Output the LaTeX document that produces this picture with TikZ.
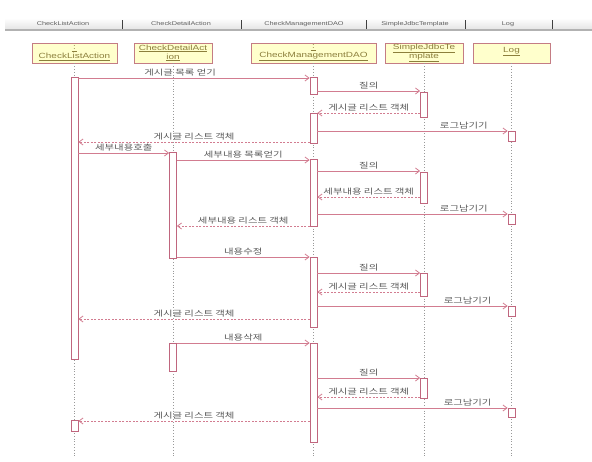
\documentclass[tikz,border=0pt]{standalone}
\usepackage{fontspec}
\setmainfont{Liberation Sans}[FakeStretch=1.33]
\newfontfamily\krfont{Noto Sans CJK KR}[FakeStretch=1.33]
\usetikzlibrary{arrows.meta}
\definecolor{msgpink}{HTML}{D27C90}
\definecolor{barpink}{HTML}{C0667E}
\definecolor{headfill}{HTML}{FFFFCC}
\definecolor{headline}{HTML}{C47C84}
\definecolor{headtext}{HTML}{8C7F3C}

\begin{document}
\begin{tikzpicture}[x=1pt, y=-1pt, >={Straight Barb[length=4pt,width=6pt]},
  head/.style={draw=headline, fill=headfill, line width=0.9pt, minimum height=20, inner sep=0pt,
    align=center, text=headtext,
    font={\fontsize{7.5}{9}\selectfont\setlength{\lineskiplimit}{-10pt}}},
  hdr/.style={text=gray!75!black, inner sep=0pt, font=\fontsize{5.5}{6}\selectfont},
  life/.style={gray!80, dotted, line width=0.8pt},
  act/.style={draw=barpink, fill=white, line width=0.8pt, minimum width=7, inner sep=0pt},
  msg/.style={->, msgpink, line width=0.8pt},
  ret/.style={msg, dash pattern=on 2pt off 1.5pt},
  lbl/.style={text=gray!70!black, inner sep=1.5pt, font=\krfont\fontsize{7.8}{8}\selectfont}]
\useasboundingbox (0,0) rectangle (592,461);
% header strip
\shade[top color=white, bottom color=gray!22] (5,18) rectangle (592,30);
\draw[gray!60, line width=1.2pt] (5,30) -- (592,30);
\draw[gray!50!black, line width=0.8pt] (122,20) -- (122,29) (241,20) -- (241,29)
  (366,20) -- (366,29) (465,20) -- (465,29) (552,20) -- (552,29);
\node[hdr] (hcla) at (63,24)  {CheckListAction};
\node[hdr] (hcda) at (181,24) {CheckDetailAction};
\node[hdr] (hdao) at (304,24) {CheckManagementDAO};
\node[hdr] (hsjt) at (415,24) {SimpleJdbcTemplate};
\node[hdr] (hlog) at (508,24) {Log};
% lifeline heads
\node[head, minimum width=85]  (cla) at (74.5,53)  {\underline{\,:\,}\\\underline{CheckListAction}};
\node[head, minimum width=78]  (cda) at (173,53)   {\underline{CheckDetailAct}\\\underline{ion}};
\node[head, minimum width=125] (dao) at (313.5,53) {\underline{\,:\,}\\\underline{CheckManagementDAO}};
\node[head, minimum width=78]  (sjt) at (424,53)   {\underline{SimpleJdbcTe}\\\underline{mplate}};
\node[head, minimum width=77, text depth=6pt] (log) at (511.5,53) {\underline{Log}};
% lifelines
\draw[life] (cla.south) -- (cla.south |- 0,456);
\draw[life] (cda.south) -- (cda.south |- 0,456);
\draw[life] (dao.south) -- (dao.south |- 0,456);
\draw[life] (sjt.south) -- (sjt.south |- 0,456);
\draw[life] (log.south) -- (log.south |- 0,456);
% activation bars
\node[act, minimum height=282] (cla1) at (cla.south |- 0,218)   {};
\node[act, minimum height=11]  (cla2) at (cla.south |- 0,425.5) {};
\node[act, minimum height=106] (cda1) at (cda.south |- 0,205)   {};
\node[act, minimum height=28]  (cda2) at (cda.south |- 0,357)   {};
\node[act, minimum height=17]  (dao1) at (dao.south |- 0,85.5)  {};
\node[act, minimum height=30]  (dao2) at (dao.south |- 0,128)   {};
\node[act, minimum height=67]  (dao3) at (dao.south |- 0,192.5) {};
\node[act, minimum height=70]  (dao4) at (dao.south |- 0,292)   {};
\node[act, minimum height=99]  (dao5) at (dao.south |- 0,392.5) {};
\node[act, minimum height=25]  (sjt1) at (sjt.south |- 0,104.5) {};
\node[act, minimum height=31]  (sjt2) at (sjt.south |- 0,187.5) {};
\node[act, minimum height=23]  (sjt3) at (sjt.south |- 0,284.5) {};
\node[act, minimum height=20]  (sjt4) at (sjt.south |- 0,388)   {};
\node[act, minimum height=10]  (log1) at (log.south |- 0,136)   {};
\node[act, minimum height=10]  (log2) at (log.south |- 0,219)   {};
\node[act, minimum height=10]  (log3) at (log.south |- 0,311)   {};
\node[act, minimum height=9]   (log4) at (log.south |- 0,412.5) {};
% list
\draw[msg] (cla1.east |- 0,78)  -- node[lbl, above, pos=.44] {게시글 목록 얻기} (dao1.west |- 0,78);
\draw[msg] (dao1.east |- 0,91)  -- node[lbl, above] {질의} (sjt1.west |- 0,91);
\draw[ret] (sjt1.west |- 0,113) -- node[lbl, above] {게시글 리스트 객체} (dao2.east |- 0,113);
\draw[msg] (dao2.east |- 0,131) -- node[lbl, above, pos=.77] {로그남기기} (log1.west |- 0,131);
\draw[ret] (dao2.west |- 0,142) -- node[lbl, above] {게시글 리스트 객체} (cla1.east |- 0,142);
% detail
\draw[msg] (cla1.east |- 0,153) -- node[lbl, above] {세부내용호출} (cda1.west |- 0,153);
\draw[msg] (cda1.east |- 0,160) -- node[lbl, above] {세부내용 목록얻기} (dao3.west |- 0,160);
\draw[msg] (dao3.east |- 0,171) -- node[lbl, above] {질의} (sjt2.west |- 0,171);
\draw[ret] (sjt2.west |- 0,197) -- node[lbl, above] {세부내용 리스트 객체} (dao3.east |- 0,197);
\draw[msg] (dao3.east |- 0,214) -- node[lbl, above, pos=.77] {로그남기기} (log2.west |- 0,214);
\draw[ret] (dao3.west |- 0,226) -- node[lbl, above] {세부내용 리스트 객체} (cda1.east |- 0,226);
% update
\draw[msg] (cda1.east |- 0,257) -- node[lbl, above] {내용수정} (dao4.west |- 0,257);
\draw[msg] (dao4.east |- 0,273) -- node[lbl, above] {질의} (sjt3.west |- 0,273);
\draw[ret] (sjt3.west |- 0,292) -- node[lbl, above] {게시글 리스트 객체} (dao4.east |- 0,292);
\draw[msg] (dao4.east |- 0,306) -- node[lbl, above, pos=.79] {로그남기기} (log3.west |- 0,306);
\draw[ret] (dao4.west |- 0,319) -- node[lbl, above] {게시글 리스트 객체} (cla1.east |- 0,319);
% delete
\draw[msg] (cda2.east |- 0,343) -- node[lbl, above] {내용삭제} (dao5.west |- 0,343);
\draw[msg] (dao5.east |- 0,378) -- node[lbl, above] {질의} (sjt4.west |- 0,378);
\draw[ret] (sjt4.west |- 0,397) -- node[lbl, above] {게시글 리스트 객체} (dao5.east |- 0,397);
\draw[msg] (dao5.east |- 0,408) -- node[lbl, above, pos=.79] {로그남기기} (log4.west |- 0,408);
\draw[ret] (dao5.west |- 0,421) -- node[lbl, above] {게시글 리스트 객체} (cla2.east |- 0,421);
\end{tikzpicture}
\end{document}
